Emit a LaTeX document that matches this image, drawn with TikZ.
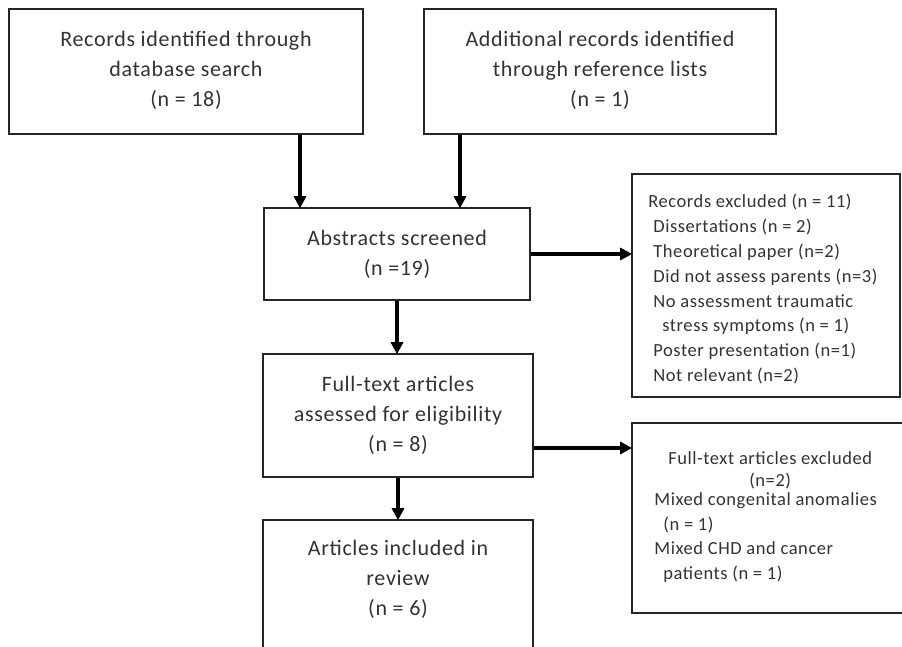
\documentclass[tikz,border=0pt]{standalone}
\usepackage{fontspec}
\setmainfont{Carlito}
\newfontfamily\boxfont[LetterSpace=3]{Carlito}
\usetikzlibrary{arrows.meta,calc}
\definecolor{txt}{HTML}{333333}
\tikzset{
  box/.style={draw=black!85, line width=1.6pt, inner sep=0pt},
  maintext/.style={text=txt, font=\boxfont\fontsize{22}{30}\selectfont, align=center, inner sep=0pt},
  sidetext/.style={text=txt, font=\boxfont\fontsize{18.5}{24.8}\selectfont, align=left, inner sep=0pt, anchor=north west},
  arr/.style={draw=black, line width=3.2pt, -{Triangle[length=12pt,width=12pt]}, shorten >=-1pt},
}
\begin{document}
\begin{tikzpicture}[x=1pt,y=-1pt]
\useasboundingbox (0,0) rectangle (902,646);
\clip (0,0) rectangle (902,646);
\fill[white] (0,0) rectangle (902,646);
% boxes
\node[box, minimum width=354pt, minimum height=125pt] (b1) at (186,71.5) {};
\node[maintext] (t1) at ($(b1.center)+(0,-1)$) {Records identified through\\database search\\(n = 18)};
\node[box, minimum width=352pt, minimum height=125pt] (b2) at (600,71.5) {};
\node[maintext] (t2) at ($(b2.center)+(0,-1)$) {Additional records identified\\through reference lists\\(n = 1)};
\node[box, minimum width=266pt, minimum height=92pt] (b3) at (397,254) {};
\node[maintext] (t3) at (b3.center) {Abstracts screened\\(n =19)};
\node[box, minimum width=270pt, minimum height=123pt] (b4) at (398,415.5) {};
\node[maintext] (t4) at (b4.center) {Full-text articles\\assessed for eligibility\\(n = 8)};
\node[box, minimum width=270pt, minimum height=150pt] (b5) at (398,595) {};
\node[maintext] (t5) at ($(b5.north)+(0,60)$) {Articles included in\\review\\(n = 6)};
\node[box, minimum width=268pt, minimum height=223pt] (r1) at (766,285.5) {};
\node[sidetext] (rt1) at ($(r1.north west)+(17,21)$) {Records excluded (n = 11)\\
\hspace*{5pt}Dissertations (n = 2)\\
\hspace*{5pt}Theoretical paper (n=2)\\
\hspace*{5pt}Did not assess parents (n=3)\\
\hspace*{5pt}No assessment traumatic\\
\hspace*{14pt}stress symptoms (n = 1)\\
\hspace*{5pt}Poster presentation (n=1)\\
\hspace*{5pt}Not relevant (n=2)};
\node[box, minimum width=284pt, minimum height=190pt] (r2) at (774,518) {};
\node[sidetext, anchor=north, align=center, font=\boxfont\fontsize{18.5}{22}\selectfont] (rt2a) at ($(r2.north west)+(139,29)$) {Full-text articles excluded\\(n=2)};
\node[sidetext] (rt2b) at ($(r2.north west)+(23,70)$) {Mixed congenital anomalies\\
\hspace*{9pt}(n = 1)\\
Mixed CHD and cancer\\
\hspace*{9pt}patients (n = 1)};
% arrows
\coordinate (c1) at (300,0);
\coordinate (c2) at (460,0);
\coordinate (p4) at ($(b4.east)+(0,32.5)$);
\draw[arr] (b1.south -| c1) -- (b3.north -| c1);
\draw[arr] (b2.south -| c2) -- (b3.north -| c2);
\draw[arr] (b3.east) -- (b3.east -| r1.west);
\draw[arr] (b3.south) -- (b4.north -| b3.south);
\draw[arr] (p4) -- (p4 -| r2.west);
\draw[arr] (b4.south) -- (b5.north);
\end{tikzpicture}
\end{document}
